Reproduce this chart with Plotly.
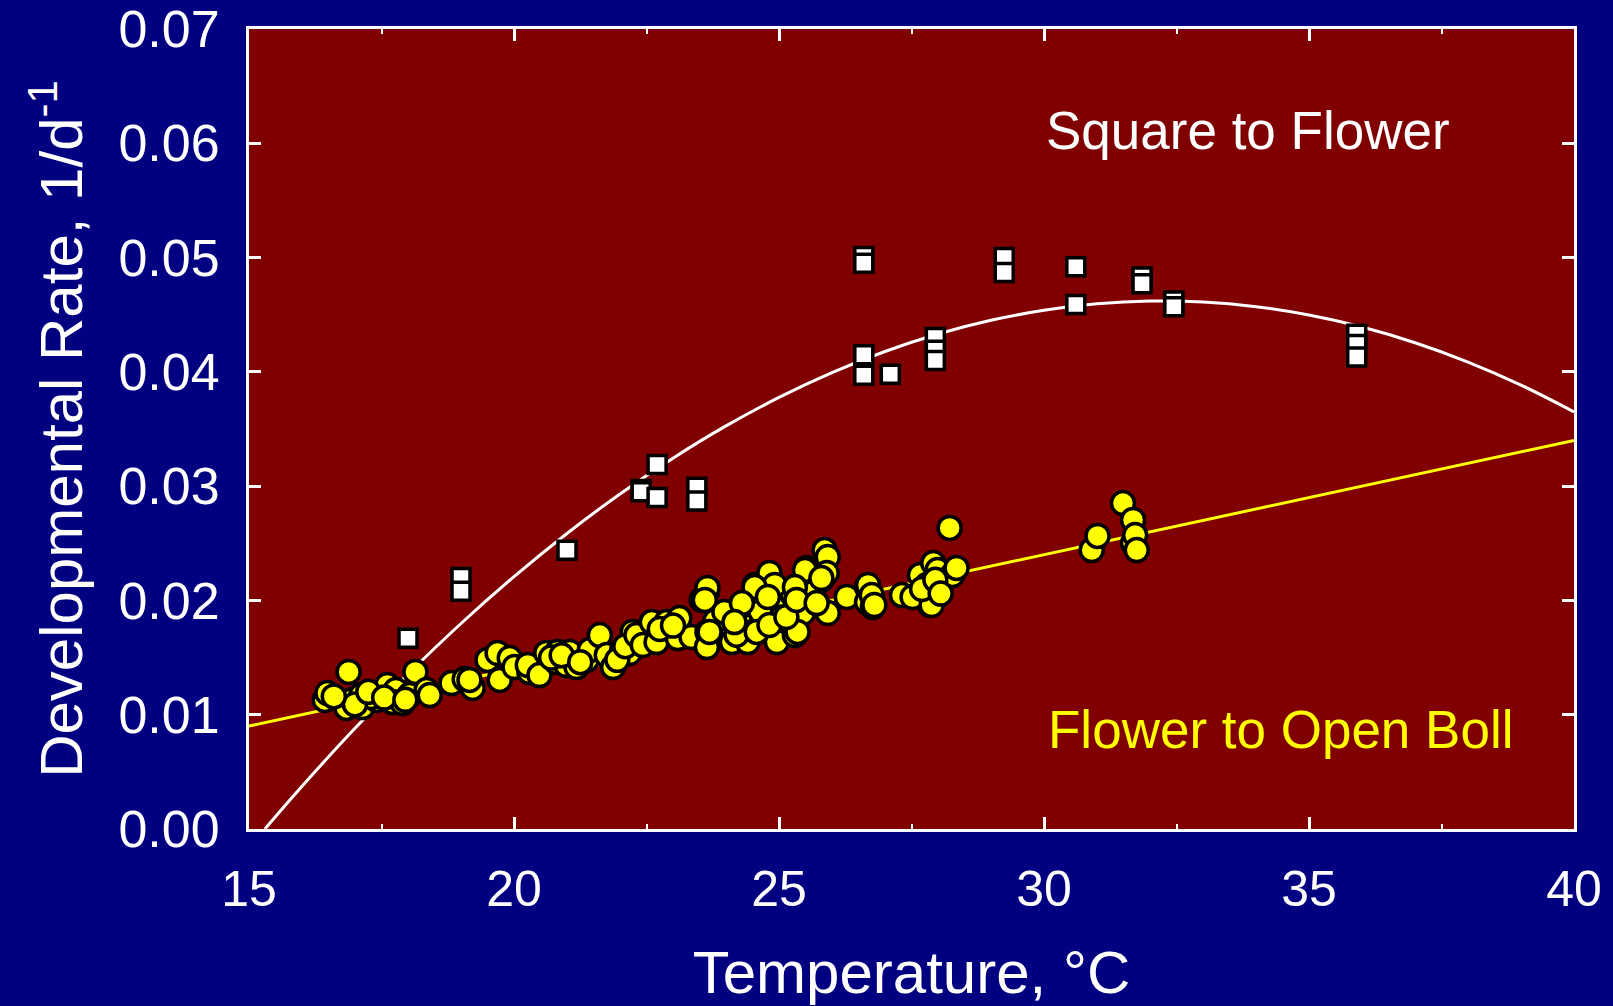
import plotly.graph_objects as go

# Square to Flower observations (white squares)
square_temp = [18.0, 19.0, 19.0, 21.0, 22.4, 22.4, 22.7, 22.7, 23.45, 23.45,
               26.6, 26.6, 26.6, 26.6, 27.1, 27.95, 27.95, 27.95, 29.25, 29.25,
               30.6, 30.6, 31.85, 31.85, 32.45, 32.45, 35.9, 35.9, 35.9]
square_rate = [0.0167, 0.0220, 0.0208, 0.0244, 0.0297, 0.0295, 0.0319, 0.0290, 0.0299, 0.0287,
               0.0501, 0.0495, 0.0415, 0.0397, 0.0398, 0.0430, 0.0419, 0.0410, 0.0500, 0.0487,
               0.0492, 0.0459, 0.0483, 0.0477, 0.0462, 0.0457, 0.0433, 0.0424, 0.0413]

# Flower to Open Boll observations (yellow circles)
circle_temp = [16.43, 16.48, 16.88, 16.84, 16.95, 17.12, 17.14, 17.41, 17.31, 17.61,
               17.77, 17.71, 17.90, 18.03, 18.14, 18.35, 18.41, 18.82, 19.07, 19.22,
               17.00, 17.25, 17.55, 17.95, 16.60,
               19.16, 19.50, 19.69, 19.73, 19.92, 20.01, 20.29, 20.26, 20.48, 20.61,
               20.82, 20.80, 20.99, 21.05, 21.18, 21.37, 21.43, 21.62, 21.75, 21.87,
               22.04, 22.18, 22.24, 22.31, 20.70, 20.90, 21.25, 21.95, 22.10,
               22.31, 22.60, 22.43, 22.69, 22.88, 23.09, 23.12, 23.35, 23.64, 23.54,
               23.65, 23.64, 23.97, 24.07, 24.11, 24.31, 24.41, 24.58, 24.54, 24.77,
               24.79, 24.92, 24.96, 25.15, 25.30, 25.26, 22.75, 23.00, 23.80, 24.20,
               24.65, 25.05,
               25.86, 25.92, 25.52, 25.80, 25.90, 24.82, 24.92, 24.54, 24.79, 25.33,
               25.64, 25.73, 25.45, 25.92, 26.28, 26.66, 26.66, 23.65, 23.60, 23.97,
               24.30, 24.58, 24.82, 25.35, 23.69, 25.14, 24.16, 25.49, 25.80, 25.30,
               25.33, 25.71,
               26.68, 26.75, 26.77, 27.32, 27.66, 27.79, 27.85, 27.52, 27.91, 28.22,
               26.80, 27.88, 27.99, 28.27, 28.35, 27.70, 27.95, 28.05,
               30.90, 31.01, 31.49, 31.68, 31.68, 31.72, 31.75]
circle_rate = [0.01129, 0.01190, 0.01374, 0.01059, 0.01129, 0.01172, 0.01067, 0.01129, 0.01155, 0.01260,
               0.01216, 0.01111, 0.01102, 0.01172, 0.01374, 0.01216, 0.01172, 0.01277, 0.01312, 0.01234,
               0.01090, 0.01200, 0.01150, 0.01130, 0.01160,
               0.01304, 0.01479, 0.01540, 0.01304, 0.01496, 0.01417, 0.01374, 0.01435, 0.01347, 0.01540,
               0.01549, 0.01461, 0.01435, 0.01549, 0.01417, 0.01479, 0.01566, 0.01697, 0.01522, 0.01417,
               0.01566, 0.01540, 0.01724, 0.01654, 0.01500, 0.01520, 0.01460, 0.01480, 0.01600,
               0.01697, 0.01811, 0.01610, 0.01636, 0.01811, 0.01671, 0.01846, 0.01680, 0.02074, 0.02004,
               0.01724, 0.01592, 0.01890, 0.01785, 0.01636, 0.01960, 0.01636, 0.01741, 0.02135, 0.01811,
               0.02047, 0.02135, 0.01636, 0.01960, 0.01697, 0.02047, 0.01750, 0.01780, 0.01820, 0.01700,
               0.01900, 0.01850,
               0.02441, 0.02380, 0.02284, 0.02179, 0.02240, 0.02240, 0.02135, 0.02117, 0.02030, 0.02004,
               0.02065, 0.01960, 0.01890, 0.01890, 0.02030, 0.02117, 0.01986, 0.02109, 0.02004, 0.01899,
               0.01977, 0.01724, 0.01785, 0.01724, 0.01724, 0.01855, 0.01811, 0.02266, 0.02196, 0.02117,
               0.02004, 0.01977,
               0.02135, 0.02047, 0.01942, 0.02047, 0.02222, 0.02135, 0.01960, 0.02030, 0.02327, 0.02634,
               0.01960, 0.01960, 0.02266, 0.02222, 0.02284, 0.02100, 0.02180, 0.02060,
               0.02441, 0.02564, 0.02852, 0.02704, 0.02502, 0.02572, 0.02441]

# Fitted curve, Square to Flower
sq_fit_temp = [15.3, 16, 17, 18, 19, 20, 21, 22, 23, 24, 25, 26, 27, 28, 29, 30,
               31, 32, 33, 34, 35, 36, 37, 38, 39, 40]
sq_fit_rate = [0.0000, 0.00374, 0.00881, 0.01355, 0.01798, 0.02208, 0.02586, 0.02932,
               0.03245, 0.03527, 0.03776, 0.03993, 0.04178, 0.04331, 0.04451, 0.04539,
               0.04595, 0.04619, 0.04611, 0.04570, 0.04497, 0.04392, 0.04255, 0.04086,
               0.03884, 0.03650]

# Fitted line, Flower to Open Boll
fb_fit_temp = [15, 40]
fb_fit_rate = [0.0090, 0.0340]

x_ticks = [15, 20, 25, 30, 35, 40]
y_ticks = [0.00, 0.01, 0.02, 0.03, 0.04, 0.05, 0.06, 0.07]

FONT = "Arial, Liberation Sans, sans-serif"

fig = go.Figure()
fig.add_trace(go.Scatter(x=sq_fit_temp, y=sq_fit_rate, mode="lines",
                         line=dict(color="white", width=3, shape="spline"),
                         hoverinfo="skip", showlegend=False))
fig.add_trace(go.Scatter(x=fb_fit_temp, y=fb_fit_rate, mode="lines",
                         line=dict(color="#FFFF00", width=3),
                         hoverinfo="skip", showlegend=False))
fig.add_trace(go.Scatter(x=circle_temp, y=circle_rate, mode="markers", name="Flower to Open Boll",
                         marker=dict(symbol="circle", size=23, color="#FFFF00",
                                     line=dict(color="black", width=3.5)),
                         showlegend=False))
fig.add_trace(go.Scatter(x=square_temp, y=square_rate, mode="markers", name="Square to Flower",
                         marker=dict(symbol="square", size=18, color="white",
                                     line=dict(color="black", width=3.5)),
                         showlegend=False))

fig.add_annotation(x=33.85, y=0.0611, xref="x", yref="y", text="Square to Flower",
                   showarrow=False, font=dict(family=FONT, size=53, color="white"))
fig.add_annotation(x=34.47, y=0.0087, xref="x", yref="y", text="Flower to Open Boll",
                   showarrow=False, font=dict(family=FONT, size=53, color="#FFFF00"))

fig.update_layout(
    width=1613, height=1006, autosize=False,
    paper_bgcolor="#000080", plot_bgcolor="#800000",
    margin=dict(l=249, r=39, t=29, b=177, pad=0),
    font=dict(family=FONT, color="white"),
    showlegend=False,
)
fig.update_xaxes(
    range=[15, 40], tickvals=x_ticks, ticks="inside", ticklen=12, tickwidth=2.5,
    tickcolor="white", showline=True, linecolor="white", linewidth=3, mirror="ticks",
    showgrid=False, zeroline=False, automargin=False,
    tickfont=dict(family=FONT, size=50, color="white"), ticklabelstandoff=14,
    minor=dict(dtick=2.5, ticks="inside", ticklen=5, tickwidth=2, tickcolor="white", showgrid=False),
    title=dict(text="Temperature, °C", font=dict(family=FONT, size=60, color="white"), standoff=35),
)
fig.update_yaxes(
    range=[0, 0.07], tickvals=y_ticks, tickformat=".2f", ticks="inside", ticklen=12, tickwidth=2.5,
    tickcolor="white", showline=True, linecolor="white", linewidth=3, mirror="ticks",
    showgrid=False, zeroline=False, automargin=False,
    tickfont=dict(family=FONT, size=52, color="white"), ticklabelstandoff=16,
    title=dict(text="Developmental Rate, 1/d<sup>-1</sup>", font=dict(family=FONT, size=60, color="white"),
               standoff=17),
)

fig.write_html("out.html", config={"displayModeBar": False},
               post_script="document.body.style.margin='0';document.body.style.overflow='hidden';")
